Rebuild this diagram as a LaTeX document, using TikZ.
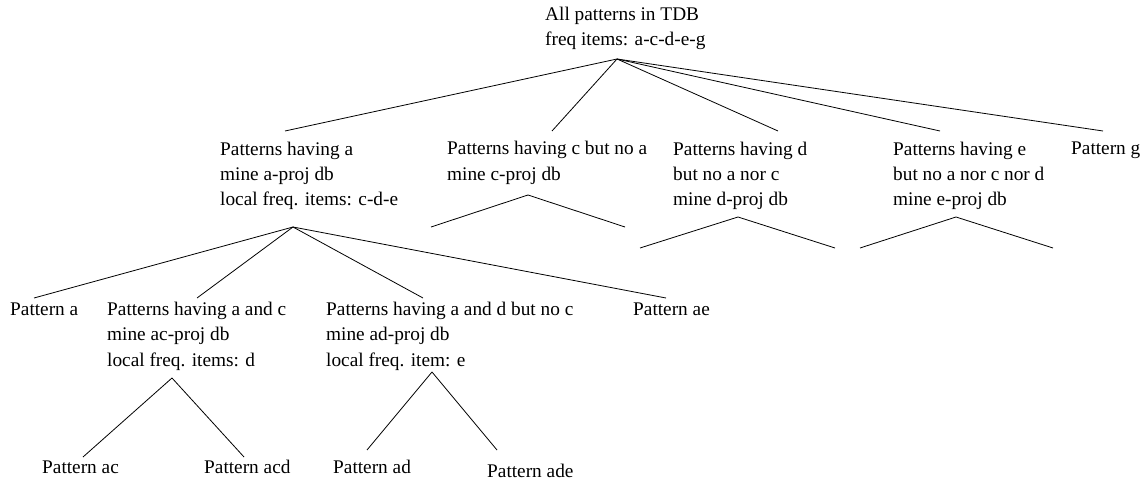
\documentclass[tikz,border=0pt]{standalone}
\usepackage{fontspec}
\setmainfont{Liberation Serif}
\begin{document}
\begin{tikzpicture}[x=1pt,y=-1pt,
  label/.style={anchor=base west,inner sep=0pt,align=left,
    font=\fontsize{19.3}{25.5}\selectfont},
  edge/.style={line width=0.8pt}]
\useasboundingbox (0,0) rectangle (1148,481);

% ---- nodes (positioned at the baseline of their last line) ----
\node[label] (root) at (545,46) {All patterns in TDB\\freq items: a-c-d-e-g};
\node[label] (na) at (220,206) {Patterns having a\\mine a-proj db\\local freq. items: c-d-e};
\node[label] (nc) at (447,180.5) {Patterns having c but no a\\mine c-proj db};
\node[label] (nd) at (673,206) {Patterns having d\\but no a nor c\\mine d-proj db};
\node[label] (ne) at (893,206) {Patterns having e\\but no a nor c nor d\\mine e-proj db};
\node[label] (ng) at (1071,155) {Pattern g};
\node[label] (pa) at (10,315) {Pattern a};
\node[label] (nac) at (107,366) {Patterns having a and c\\mine ac-proj db\\local freq. items: d};
\node[label] (nad) at (326,366) {Patterns having a and d but no c\\mine ad-proj db\\local freq. item: e};
\node[label] (pae) at (633,315) {Pattern ae};
\node[label] (pac) at (42,473) {Pattern ac};
\node[label] (pacd) at (204,473) {Pattern acd};
\node[label] (pad) at (333,473) {Pattern ad};
\node[label] (pade) at (487,477) {Pattern ade};

% ---- fork points below each node ----
\coordinate (root-f) at (617,59);
\coordinate (na-f) at (293,227);
\coordinate (nc-f) at (528,195);
\coordinate (nd-f) at (738,217);
\coordinate (ne-f) at (956,217);
\coordinate (nac-f) at (172,378);
\coordinate (nad-f) at (432,372);

% ---- line ends above each child ----
\coordinate (na-t) at (285,131);
\coordinate (nc-t) at (552,131);
\coordinate (nd-t) at (778,131);
\coordinate (ne-t) at (940,131);
\coordinate (ng-t) at (1103,131);
\coordinate (pa-t) at (34,298);
\coordinate (nac-t) at (197,298);
\coordinate (nad-t) at (423,298);
\coordinate (pae-t) at (666,298);
\coordinate (pac-t) at (83,457);
\coordinate (pacd-t) at (244,457);
\coordinate (pad-t) at (367,450);
\coordinate (pade-t) at (497,450);

% open subtrees
\coordinate (nc-l) at (431,227);
\coordinate (nc-r) at (625,227);
\coordinate (nd-l) at (640,248);
\coordinate (nd-r) at (835,248);
\coordinate (ne-l) at (860,248);
\coordinate (ne-r) at (1053,248);

% ---- connectors ----
\foreach \c in {na,nc,nd,ne,ng} \draw[edge] (root-f) -- (\c-t);
\foreach \c in {pa,nac,nad,pae} \draw[edge] (na-f) -- (\c-t);
\foreach \c in {pac,pacd} \draw[edge] (nac-f) -- (\c-t);
\foreach \c in {pad,pade} \draw[edge] (nad-f) -- (\c-t);
\foreach \n in {nc,nd,ne} \draw[edge] (\n-l) -- (\n-f) -- (\n-r);
\end{tikzpicture}
\end{document}
